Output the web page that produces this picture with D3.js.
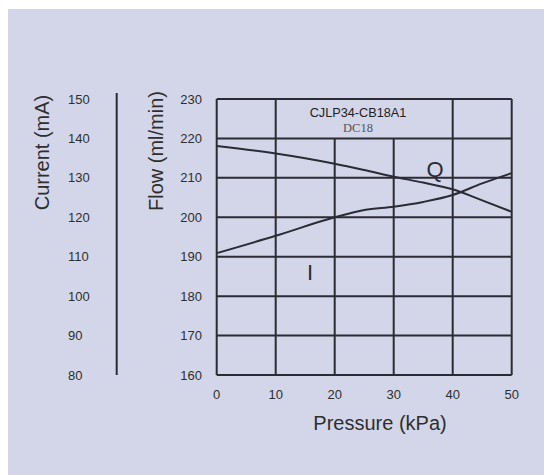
<!DOCTYPE html>
<html><head><meta charset="utf-8">
<script src="https://cdn.jsdelivr.net/npm/d3@7/dist/d3.min.js"></script>
<style>html,body{margin:0;padding:0;background:#fff;}svg{display:block;}</style>
</head><body>
<script>
const pressure = [0, 10, 20, 25, 30, 35, 40, 45, 50];
const flowQ = [218.1, 216.2, 213.6, 212.0, 210.3, 208.8, 207.1, 204.3, 201.4];
const currentI = [110.9, 115.3, 120.0, 121.85, 122.7, 123.9, 125.65, 128.6, 131.2];
const xTicks = [0, 10, 20, 30, 40, 50];
const flowTicks = [160, 170, 180, 190, 200, 210, 220, 230];
const currentTicks = [80, 90, 100, 110, 120, 130, 140, 150];
const title = "CJLP34-CB18A1";
const subtitle = "DC18";

const W = 544, H = 475;
const ink = "#2b2b36";
const sans = "'Liberation Sans', Arial, sans-serif";
const svg = d3.select("body").append("svg").attr("width", W).attr("height", H)
  .attr("font-family", sans);
svg.append("rect").attr("x", 8).attr("y", 9).attr("width", W - 8).attr("height", H - 9).attr("fill", "#d3d6e8");

const x = d3.scaleLinear().domain([0, 50]).range([216.7, 511.7]);
const yF = d3.scaleLinear().domain([160, 230]).range([375, 99]);
const yC = d3.scaleLinear().domain([80, 150]).range([375, 99]);

const g = svg.append("g");
flowTicks.forEach(t => {
  g.append("line").attr("x1", x(0)).attr("x2", x(50)).attr("y1", yF(t)).attr("y2", yF(t))
    .attr("stroke", ink).attr("stroke-width", 2);
});
xTicks.forEach(t => {
  const top = (t === 20 || t === 30) ? yF(220) : yF(230);
  g.append("line").attr("x1", x(t)).attr("x2", x(t)).attr("y1", top).attr("y2", yF(160))
    .attr("stroke", ink).attr("stroke-width", 2);
});

xTicks.forEach(t => {
  svg.append("text").attr("x", x(t)).attr("y", 399).attr("text-anchor", "middle")
    .attr("font-size", 13).attr("fill", "#2e2e2e").text(t);
});
flowTicks.forEach(t => {
  svg.append("text").attr("x", 202).attr("y", yF(t) + 4.5).attr("text-anchor", "end")
    .attr("font-size", 13).attr("fill", "#2e2e2e").text(t);
});
currentTicks.forEach(t => {
  svg.append("text").attr("x", 68).attr("y", yC(t) + 4.5).attr("text-anchor", "start")
    .attr("font-size", 13).attr("fill", "#2e2e2e").text(t);
});
svg.append("line").attr("x1", 116.7).attr("x2", 116.7).attr("y1", 93).attr("y2", yC(80))
  .attr("stroke", ink).attr("stroke-width", 2);

svg.append("text").attr("transform", "translate(49,152.5) rotate(-90)").attr("text-anchor", "middle")
  .attr("font-size", 20).attr("fill", "#2e2e2e").text("Current (mA)");
svg.append("text").attr("transform", "translate(163,151) rotate(-90)").attr("text-anchor", "middle")
  .attr("font-size", 20).attr("fill", "#2e2e2e").text("Flow (ml/min)");
svg.append("text").attr("x", 380).attr("y", 430).attr("text-anchor", "middle")
  .attr("font-size", 20).attr("fill", "#2e2e2e").text("Pressure (kPa)");

svg.append("text").attr("x", 358).attr("y", 116.5).attr("text-anchor", "middle")
  .attr("font-size", 12.7).attr("fill", "#222").text(title);
svg.append("text").attr("x", 358).attr("y", 132).attr("text-anchor", "middle")
  .attr("font-family", "'Liberation Serif', 'DejaVu Serif', serif").attr("font-size", 12.5)
  .attr("fill", "#555").text(subtitle);

const lineQ = d3.line().x((d, i) => x(pressure[i])).y(d => yF(d)).curve(d3.curveMonotoneX);
const lineI = d3.line().x((d, i) => x(pressure[i])).y(d => yC(d)).curve(d3.curveMonotoneX);
svg.append("path").attr("d", lineQ(flowQ)).attr("fill", "none").attr("stroke", ink).attr("stroke-width", 2);
svg.append("path").attr("d", lineI(currentI)).attr("fill", "none").attr("stroke", ink).attr("stroke-width", 2);

svg.append("text").attr("x", 435).attr("y", 176.5).attr("text-anchor", "middle")
  .attr("font-size", 22).attr("fill", ink).text("Q");
svg.append("text").attr("x", 310).attr("y", 280).attr("text-anchor", "middle")
  .attr("font-size", 22).attr("fill", ink).text("I");
</script>
</body></html>
